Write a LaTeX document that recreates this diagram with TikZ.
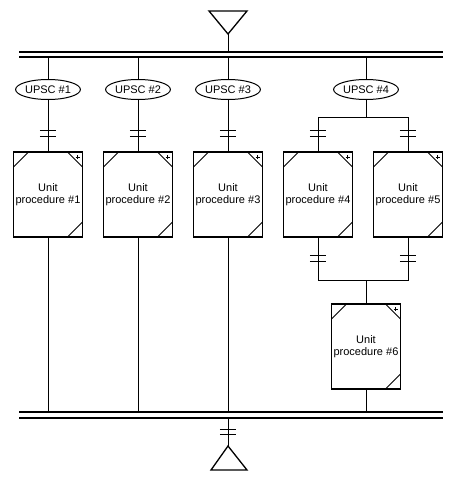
\documentclass[tikz,border=0pt]{standalone}
\usepackage{fontspec}
\setsansfont{Liberation Sans}
\usetikzlibrary{shapes.geometric}
\tikzset{
    wire/.style     = {line width=1pt},
    thinwire/.style = {line width=0.6pt},
    bus/.style      = {line width=1.4pt},
    bar/.style      = {line width=1.2pt},
    upsc/.style     = {ellipse, draw, line width=1pt, minimum width=54pt, minimum height=20pt,
                       inner sep=0pt, font=\sffamily\fontsize{11}{12.5}\selectfont},
    trans/.style    = {rectangle, minimum width=16pt, minimum height=5pt, inner sep=0pt},
    unitproc/.style = {rectangle, draw, line width=1.1pt, minimum width=69pt, minimum height=85pt,
                       align=center, inner sep=0pt, font=\sffamily\fontsize{11}{12.5}\selectfont,
                       path picture={
                         \draw[line width=1pt] ([yshift=-15pt]path picture bounding box.north west) -- ++(15pt,15pt);
                         \draw[line width=1pt] ([xshift=-15pt]path picture bounding box.north east) -- ++(15pt,-15pt);
                         \draw[line width=1pt] ([xshift=-15pt]path picture bounding box.south east) -- ++(15pt,15pt);
                         \draw[line width=0.6pt] ([xshift=-7pt,yshift=-5pt]path picture bounding box.north east)
                               -- ++(4pt,0pt) ++(-2pt,-2pt) -- ++(0pt,4pt);
                       }}
}

\begin{document}
\begin{tikzpicture}[x=1pt, y=-1pt]
    \useasboundingbox (0,0) rectangle (454,479);

    % Source and buses
    \draw[line width=1.3pt] (209,11) -- (247,11) -- (228,34) -- cycle;
    \coordinate (src) at (228,34);
    \draw[bus] (19,52) -- (443,52);
    \draw[bus] (19,57) -- (443,57);
    \coordinate (busT) at (228,57);
    \draw[bus] (19,412) -- (443,412);
    \draw[bus] (19,418) -- (443,418);
    \coordinate (busB) at (228,412);
    \coordinate (busB2) at (228,418);
    \draw[line width=1.3pt] (211,470) -- (247,470) -- (228,446) -- cycle;
    \coordinate (snk) at (228,446);

    % UPSC nodes
    \node[upsc] (u1) at (48,89.5)  {UPSC \#1};
    \node[upsc] (u2) at (138,89.5) {UPSC \#2};
    \node[upsc] (u3) at (228,89.5) {UPSC \#3};
    \node[upsc] (u4) at (366,89.5) {UPSC \#4};

    % Transitions
    \node[trans] (t1)  at (48,133.5)  {};
    \node[trans] (t2)  at (138,133.5) {};
    \node[trans] (t3)  at (228,133.5) {};
    \node[trans] (t4a) at (318,133.5) {};
    \node[trans] (t4b) at (408,133.5) {};
    \node[trans] (t4c) at (318,258.5) {};
    \node[trans] (t5c) at (408,258.5) {};
    \node[trans] (tb)  at (228,432)   {};
    \foreach \t in {t1,t2,t3,t4a,t4b,t4c,t5c,tb}
        \draw[bar] (\t.north west) -- (\t.north east) (\t.south west) -- (\t.south east);

    % Unit procedures
    \node[unitproc] (p1) at (48,194.5)  {Unit\\procedure \#1};
    \node[unitproc] (p2) at (138,194.5) {Unit\\procedure \#2};
    \node[unitproc] (p3) at (228,194.5) {Unit\\procedure \#3};
    \node[unitproc] (p4) at (318,194.5) {Unit\\procedure \#4};
    \node[unitproc] (p5) at (408,194.5) {Unit\\procedure \#5};
    \node[unitproc] (p6) at (366,346.5) {Unit\\procedure \#6};

    % Connectors
    \draw[wire] (src) -- (busT |- 0,52);
    \draw[wire] (u1.north) -- (u1.north |- busT);
    \draw[thinwire] (u2.north) -- (u2.north |- busT);
    \draw[wire] (u3.north) -- (busT);
    \draw[wire] (u4.north) -- (u4.north |- busT);
    \draw[wire] (u1.south) -- (p1.north);
    \draw[thinwire] (u2.south) -- (p2.north);
    \draw[wire] (u3.south) -- (p3.north);
    \draw[wire] (u4.south) -- (u4.south |- 0,117) coordinate (split);
    \draw[wire] (p4.north) -- (p4.north |- split) -- (p5.north |- split) -- (p5.north);
    \draw[wire] (p4.south) -- (p4.south |- 0,280) coordinate (join) -- (p5.south |- join) -- (p5.south);
    \draw[wire] (p6.north |- join) -- (p6.north);
    \draw[wire] (p1.south) -- (p1.south |- busB);
    \draw[thinwire] (p2.south) -- (p2.south |- busB);
    \draw[wire] (p3.south) -- (busB);
    \draw[wire] (p6.south) -- (p6.south |- busB);
    \draw[wire] (busB2) -- (snk);

\end{tikzpicture}
\end{document}
